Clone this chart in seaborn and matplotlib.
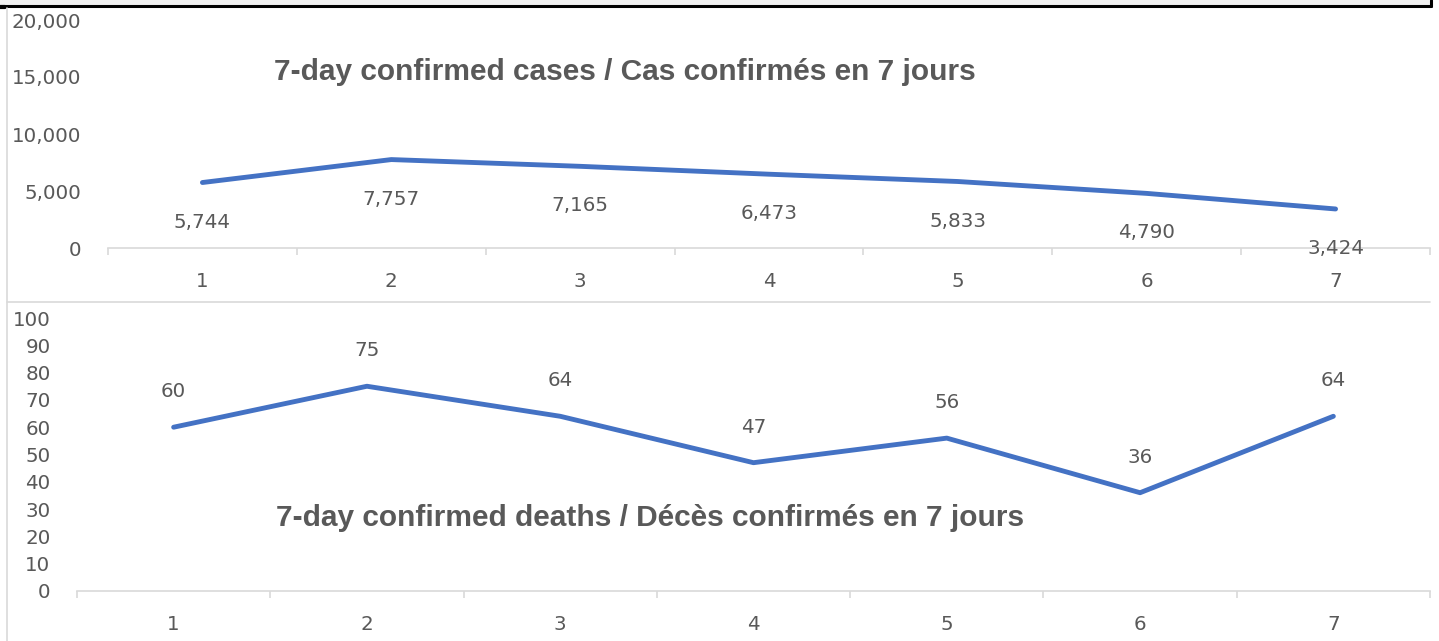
import matplotlib
matplotlib.use("Agg")
import matplotlib.pyplot as plt
import seaborn as sns
import pandas as pd
from matplotlib.patches import Rectangle
from matplotlib.lines import Line2D

# ---- data ----
weeks = [1, 2, 3, 4, 5, 6, 7]
cases = [5744, 7757, 7165, 6473, 5833, 4790, 3424]
deaths = [60, 75, 64, 47, 56, 36, 64]
cases_title = "7-day confirmed cases / Cas confirmés en 7 jours"
deaths_title = "7-day confirmed deaths / Décès confirmés en 7 jours"
case_ticks = [0, 5000, 10000, 15000, 20000]
death_ticks = list(range(0, 101, 10))

sns.set_theme(style="white")
plt.rcParams['font.family'] = ['DejaVu Sans']

LINE = "#4472C4"
TXT = "#595959"
GRID = "#d9d9d9"
NUM = 14.3
TITLE_FONT = ['Liberation Sans', 'DejaVu Sans']
TITLE_SIZE = 21.5

W, H = 1439, 641
fig = plt.figure(figsize=(W / 100, H / 100), dpi=100)
fig.patch.set_facecolor("white")


def fx(px):
    return px / W


def fy(py):
    return 1 - py / H


# background frames
fig.add_artist(Rectangle((0, fy(6)), fx(1431), 6 / H, transform=fig.transFigure,
                         facecolor="#f0f0f0", edgecolor="none", zorder=0))
fig.add_artist(Line2D([0, fx(1431)], [fy(6), fy(6)], transform=fig.transFigure,
                      color="black", lw=2.2))
fig.add_artist(Line2D([fx(1431), fx(1431)], [1, fy(6)], transform=fig.transFigure,
                      color="black", lw=2.2))
fig.add_artist(Line2D([0, fx(5)], [fy(7), fy(7)], transform=fig.transFigure,
                      color="black", lw=3))
fig.add_artist(Line2D([fx(6.5), fx(6.5)], [fy(8), 0], transform=fig.transFigure,
                      color=GRID, lw=1.2))
fig.add_artist(Line2D([fx(6.5), fx(1430)], [fy(302), fy(302)], transform=fig.transFigure,
                      color=GRID, lw=1.2))


def style_axes(ax, yticks, fmt):
    ax.set_xlim(0.5, 7.41)
    ax.set_ylim(yticks[0], yticks[-1])
    for s in ["top", "right", "left"]:
        ax.spines[s].set_visible(False)
    ax.spines["bottom"].set_color(GRID)
    ax.spines["bottom"].set_linewidth(1.2)
    ax.set_xticks(weeks)
    ax.set_xticklabels([str(w) for w in weeks])
    ax.set_xticks([w + 0.5 for w in [0] + weeks], minor=True)
    ax.tick_params(axis="x", which="major", length=0, pad=17.5, labelsize=NUM, colors=TXT)
    ax.tick_params(axis="x", which="minor", length=5, width=1.2, color=GRID, bottom=True)
    ax.set_yticks(yticks)
    ax.set_yticklabels([fmt(v) for v in yticks])
    ax.tick_params(axis="y", length=0, pad=19, labelsize=NUM, colors=TXT)
    ax.set_xlabel("")
    ax.set_ylabel("")
    ax.patch.set_alpha(0)


# top panel: cases
ax1 = fig.add_axes([fx(108), fy(248), fx(1430) - fx(108), (248 - 20) / H])
df1 = pd.DataFrame({"week": weeks, "cases": cases})
sns.lineplot(data=df1, x="week", y="cases", ax=ax1, color=LINE, lw=3.5,
             solid_capstyle="round", clip_on=False)
style_axes(ax1, case_ticks, lambda v: f"{v:,}")
for w, v in zip(weeks, cases):
    ax1.annotate(f"{v:,}", (w, v), xytext=(0, -28.5), textcoords="offset points",
                 ha="center", va="center", fontsize=NUM, color=TXT)
fig.text(fx(625), fy(72), cases_title, ha="center", va="center", fontsize=TITLE_SIZE,
         fontweight="bold", color=TXT, family=TITLE_FONT)

# bottom panel: deaths
ax2 = fig.add_axes([fx(77), fy(591), fx(1430) - fx(77), (591 - 318) / H])
df2 = pd.DataFrame({"week": weeks, "deaths": deaths})
sns.lineplot(data=df2, x="week", y="deaths", ax=ax2, color=LINE, lw=3.5,
             solid_capstyle="round", clip_on=False)
style_axes(ax2, death_ticks, lambda v: f"{v}")
for w, v in zip(weeks, deaths):
    ax2.annotate(f"{v}", (w, v), xytext=(0, 25.5), textcoords="offset points",
                 ha="center", va="center", fontsize=NUM, color=TXT)
fig.text(fx(650), fy(518), deaths_title, ha="center", va="center", fontsize=TITLE_SIZE,
         fontweight="bold", color=TXT, family=TITLE_FONT)

fig.savefig("out.png", dpi=100, facecolor="white")
